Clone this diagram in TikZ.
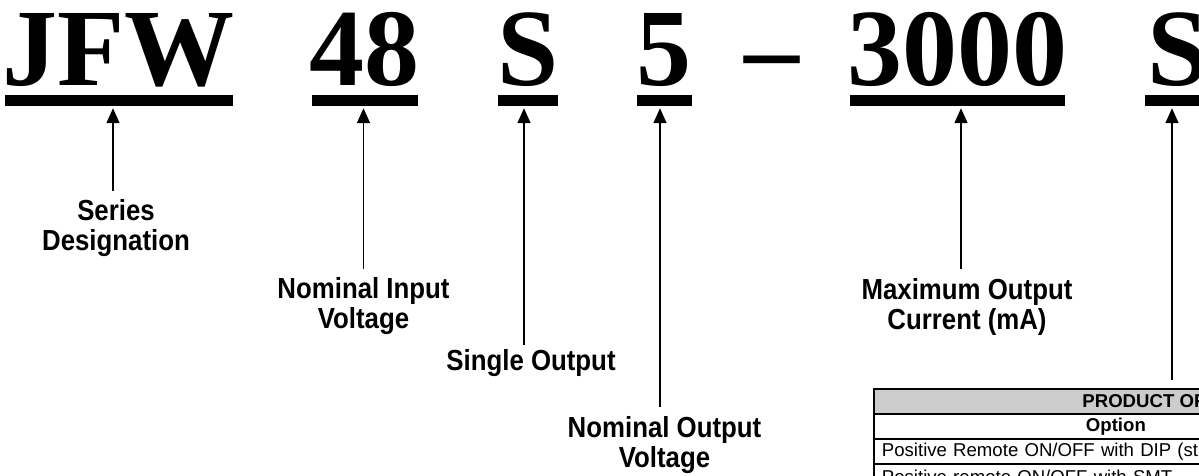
\documentclass[tikz,border=0pt]{standalone}
\usepackage{fontspec}
\setmainfont{Liberation Serif}
\setsansfont{Liberation Sans}
\newfontfamily\fieldfont[FakeStretch=0.89]{Liberation Sans}
\usetikzlibrary{arrows.meta, positioning}

\tikzset{
  code/.style={font=\bfseries\fontsize{110}{110}\selectfont, anchor=base, inner sep=0pt},
  ubar/.style={fill=black, inner sep=0pt, minimum height=11pt},
  field/.style={font=\fieldfont\bfseries\fontsize{29}{30}\selectfont, align=center,
    anchor=north, inner sep=0pt},
  pointer/.style={line width=1.5pt, -{Triangle[width=13pt,length=15pt]},
    shorten >=2pt, shorten <=9pt},
  cell/.style={draw, line width=1.8pt, anchor=north west, minimum height=25pt,
    inner ysep=2pt, inner xsep=8pt, font=\sffamily\fontsize{18.6}{22}\selectfont},
  headcell/.style={cell, font=\sffamily\bfseries\fontsize{18.6}{22}\selectfont},
}

\begin{document}
\begin{tikzpicture}[x=1pt, y=-1pt]
  \useasboundingbox (0,0) rectangle (1199,475);
  \clip (0,0) rectangle (1199,475);
  % Part number
  \node[code] (jfw)   at (118.5,85) {JFW};
  \node[code] (vin)   at (364,85)   {48};
  \node[code] (sgl)   at (528,85)   {S};
  \node[code] (vout)  at (664,85)   {5};
  \node[code] (dash)  at (772,85)   {\textendash};
  \node[code] (iout)  at (957,85)   {3000};
  \node[code] (opt)   at (1178,85)  {S};
  % Underlines
  \node[ubar, minimum width=228] (jfwbar)  at (119,100.5)   {};
  \node[ubar, minimum width=106] (vinbar)  at (365,100.5)   {};
  \node[ubar, minimum width=60]  (sglbar)  at (528,100.5)   {};
  \node[ubar, minimum width=55]  (voutbar) at (664.5,100.5) {};
  \node[ubar, minimum width=215] (ioutbar) at (957.5,100.5) {};
  \node[ubar, minimum width=60]  (optbar)  at (1175,100.5)  {};
  % Field labels
  \node[field] (series)  at (116,199.5)   {Series\\Designation};
  \node[field] (input)   at (363.5,277.5) {Nominal Input\\Voltage};
  \node[field] (single)  at (531,349.5)   {Single Output};
  \node[field] (output)  at (664.5,416)   {Nominal Output\\Voltage};
  \node[field] (current) at (967,278)     {Maximum Output\\Current (mA)};
  % Pointers
  \draw[pointer] ([xshift=-3pt]series.north) -- ([xshift=-3pt]series.north |- jfwbar.south);
  \draw[pointer] (input.north) -- (input.north |- vinbar.south);
  \draw[pointer, shorten <=5pt] ([xshift=-7pt]single.north) -- ([xshift=-7pt]single.north |- sglbar.south);
  \draw[pointer, shorten <=9pt] ([xshift=-4.5pt]output.north) -- ([xshift=-4.5pt]output.north |- voutbar.south);
  \draw[pointer] ([xshift=-6pt]current.north) -- ([xshift=-6pt]current.north |- ioutbar.south);
  \coordinate (opttip) at (1172,380);
  \draw[pointer, shorten <=0pt] (opttip) -- (opttip |- optbar.south);
  % Options table
  \node[headcell, fill=black!20, minimum width=540] (tabhead) at (873,388) {PRODUCT OF};
  \node[headcell, minimum width=484] (tabcol) at (873,413) {Option};
  \node[cell, text width=520, align=left] (rowdip) at (873,438) {Positive Remote ON/OFF with DIP (st};
  \node[cell, text width=520, align=left] (rowsmt) at (873,463) {Positive remote ON/OFF with SMT};
\end{tikzpicture}
\end{document}
